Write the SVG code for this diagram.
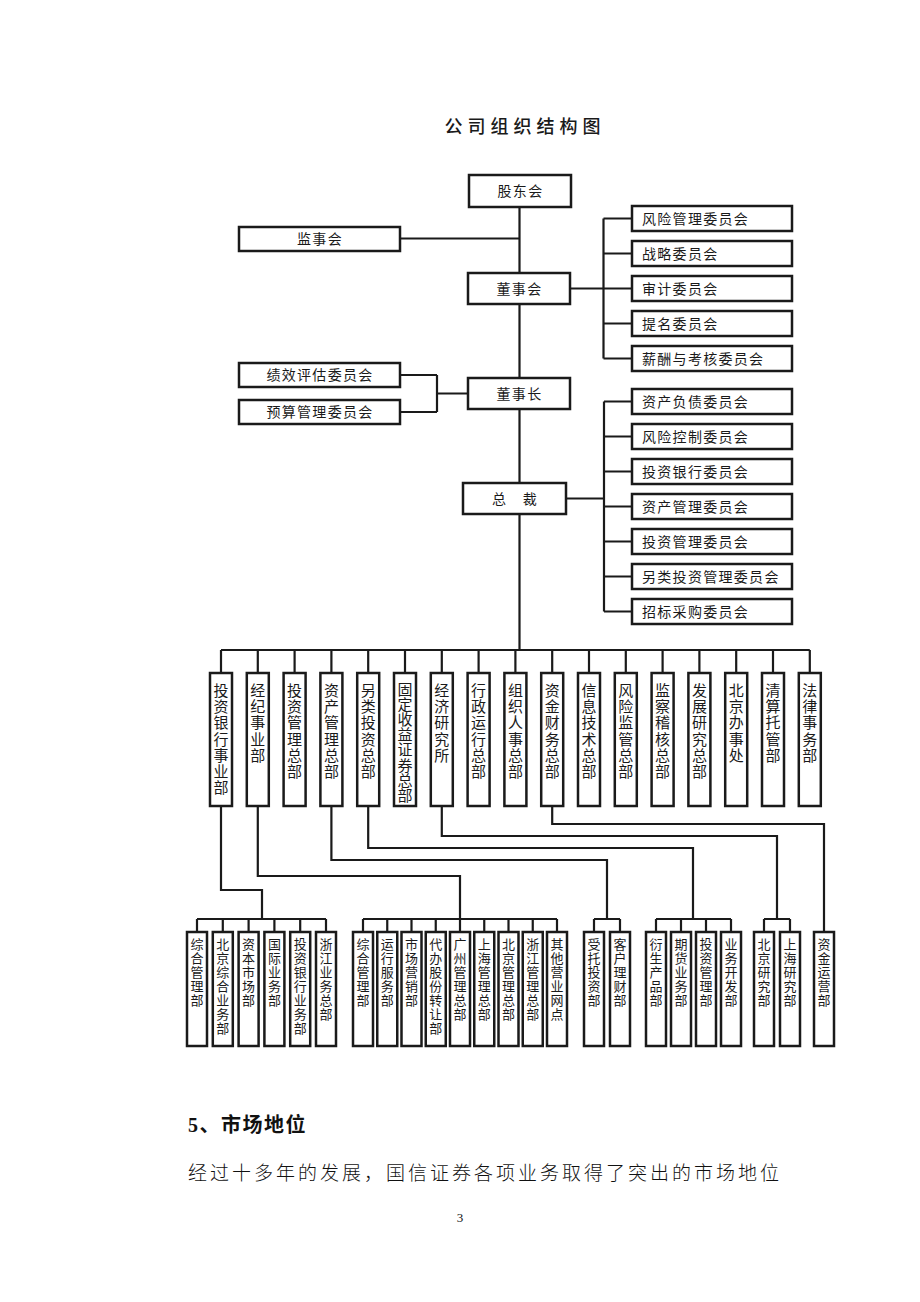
<svg xmlns="http://www.w3.org/2000/svg" width="920" height="1302" viewBox="0 0 920 1302">
<style>
.b{fill:#fff;stroke:#1a1a1a;stroke-width:2.5}
.c{fill:none;stroke:#1a1a1a;stroke-width:2.2}
.t{font-family:"Noto Sans CJK SC","Noto Sans",sans-serif;font-size:14px;fill:#1a1a1a;letter-spacing:1.3px}
.m{text-anchor:middle}
.v{font-family:"Noto Sans CJK SC","Noto Sans",sans-serif;font-size:15px;fill:#1a1a1a;text-anchor:middle}
.s{font-family:"Noto Sans CJK SC","Noto Sans",sans-serif;font-size:13px;fill:#1a1a1a;text-anchor:middle}
</style>
<rect width="920" height="1302" fill="#fff"/>
<text x="525" y="133" class="m" style="font-family:'Noto Sans CJK SC',sans-serif;font-size:18px;font-weight:500;letter-spacing:5px;fill:#1a1a1a">公司组织结构图</text>

<g id="connectors" class="c">
<path d="M519.5 207V273M519.5 304V378M519.5 409V483M519.5 514V650"/>
<path d="M400 238.5H519.5"/>
<path d="M570 288.5H603.5M603.5 218.5V358.5M603.5 218.5H632M603.5 253.5H632M603.5 288.5H632M603.5 323.5H632M603.5 358.5H632"/>
<path d="M400 375H437M400 412H437M437 375V412M437 393.5H468"/>
<path d="M566 498.5H604M604 401.5V611.5M604 401.5H632M604 436.5H632M604 471.5H632M604 506.5H632M604 541.5H632M604 576.5H632M604 611.5H632"/>
<path d="M221 650H809.8M221 650V673M257.8 650V673M294.6 650V673M331.4 650V673M368.2 650V673M405 650V673M441.8 650V673M478.6 650V673M515.4 650V673M552.2 650V673M589 650V673M625.8 650V673M662.6 650V673M699.4 650V673M736.2 650V673M773 650V673M809.8 650V673"/>
<path d="M221 806V890H262V919"/>
<path d="M257.8 806V876H460V919"/>
<path d="M331.4 806V860H607V919"/>
<path d="M368.2 806V848H693V919"/>
<path d="M441.8 806V836H777V919"/>
<path d="M552.2 806V824H824V932"/>
<path d="M197 919H326M197 919V932M222.8 919V932M248.6 919V932M274.4 919V932M300.2 919V932M326 919V932"/>
<path d="M363 919H557M363 919V932M387.25 919V932M411.5 919V932M435.75 919V932M460 919V932M484.25 919V932M508.5 919V932M532.75 919V932M557 919V932"/>
<path d="M594 919H620M594 919V932M620 919V932"/>
<path d="M656 919H731M656 919V932M681 919V932M706 919V932M731 919V932"/>
<path d="M764 919H790M764 919V932M790 919V932"/>
</g>

<g id="n-gudonghui"><rect class="b" x="469" y="175" width="102" height="32"/><text class="t m" x="520.5" y="196">股东会</text></g>
<g id="n-jianshihui"><rect class="b" x="239" y="227" width="161" height="24"/><text class="t m" x="320" y="244">监事会</text></g>
<g id="n-dongshihui"><rect class="b" x="468" y="273" width="102" height="31"/><text class="t m" x="519.5" y="293.5">董事会</text></g>
<g id="n-dongshizhang"><rect class="b" x="468" y="378" width="102" height="31"/><text class="t m" x="519.5" y="398.5">董事长</text></g>
<g id="n-zongcai"><rect class="b" x="463" y="483" width="103" height="31"/><text class="t m" x="515" y="503.5">总　裁</text></g>

<g id="n-jixiao"><rect class="b" x="239" y="363" width="161" height="24"/><text class="t m" x="320" y="380">绩效评估委员会</text></g>
<g id="n-yusuan"><rect class="b" x="239" y="400" width="161" height="24"/><text class="t m" x="320" y="417">预算管理委员会</text></g>

<g id="n-fxgl"><rect class="b" x="632" y="206" width="160" height="25"/><text class="t" x="642" y="223.5">风险管理委员会</text></g>
<g id="n-zlwy"><rect class="b" x="632" y="241" width="160" height="25"/><text class="t" x="642" y="258.5">战略委员会</text></g>
<g id="n-sjwy"><rect class="b" x="632" y="276" width="160" height="25"/><text class="t" x="642" y="293.5">审计委员会</text></g>
<g id="n-tmwy"><rect class="b" x="632" y="311" width="160" height="25"/><text class="t" x="642" y="328.5">提名委员会</text></g>
<g id="n-xckh"><rect class="b" x="632" y="346" width="160" height="25"/><text class="t" x="642" y="363.5">薪酬与考核委员会</text></g>

<g id="n-zcfz"><rect class="b" x="632" y="389" width="160" height="25"/><text class="t" x="642" y="406.5">资产负债委员会</text></g>
<g id="n-fxkz"><rect class="b" x="632" y="424" width="160" height="25"/><text class="t" x="642" y="441.5">风险控制委员会</text></g>
<g id="n-tzyh"><rect class="b" x="632" y="459" width="160" height="25"/><text class="t" x="642" y="476.5">投资银行委员会</text></g>
<g id="n-zcgl"><rect class="b" x="632" y="494" width="160" height="25"/><text class="t" x="642" y="511.5">资产管理委员会</text></g>
<g id="n-tzgl"><rect class="b" x="632" y="529" width="160" height="25"/><text class="t" x="642" y="546.5">投资管理委员会</text></g>
<g id="n-lltz"><rect class="b" x="632" y="564" width="160" height="25"/><text class="t" x="642" y="581.5">另类投资管理委员会</text></g>
<g id="n-zbcg"><rect class="b" x="632" y="599" width="160" height="25"/><text class="t" x="642" y="616.5">招标采购委员会</text></g>

<g id="d1"><rect class="b" x="210" y="673" width="22" height="133"/><text class="v" y="696"><tspan x="221">投</tspan><tspan x="221" dy="16.2">资</tspan><tspan x="221" dy="16.2">银</tspan><tspan x="221" dy="16.2">行</tspan><tspan x="221" dy="16.2">事</tspan><tspan x="221" dy="16.2">业</tspan><tspan x="221" dy="16.2">部</tspan></text></g>
<g id="d2"><rect class="b" x="246.8" y="673" width="22" height="133"/><text class="v" y="696"><tspan x="257.8">经</tspan><tspan x="257.8" dy="16.2">纪</tspan><tspan x="257.8" dy="16.2">事</tspan><tspan x="257.8" dy="16.2">业</tspan><tspan x="257.8" dy="16.2">部</tspan></text></g>
<g id="d3"><rect class="b" x="283.6" y="673" width="22" height="133"/><text class="v" y="696"><tspan x="294.6">投</tspan><tspan x="294.6" dy="16.2">资</tspan><tspan x="294.6" dy="16.2">管</tspan><tspan x="294.6" dy="16.2">理</tspan><tspan x="294.6" dy="16.2">总</tspan><tspan x="294.6" dy="16.2">部</tspan></text></g>
<g id="d4"><rect class="b" x="320.4" y="673" width="22" height="133"/><text class="v" y="696"><tspan x="331.4">资</tspan><tspan x="331.4" dy="16.2">产</tspan><tspan x="331.4" dy="16.2">管</tspan><tspan x="331.4" dy="16.2">理</tspan><tspan x="331.4" dy="16.2">总</tspan><tspan x="331.4" dy="16.2">部</tspan></text></g>
<g id="d5"><rect class="b" x="357.2" y="673" width="22" height="133"/><text class="v" y="696"><tspan x="368.2">另</tspan><tspan x="368.2" dy="16.2">类</tspan><tspan x="368.2" dy="16.2">投</tspan><tspan x="368.2" dy="16.2">资</tspan><tspan x="368.2" dy="16.2">总</tspan><tspan x="368.2" dy="16.2">部</tspan></text></g>
<g id="d6"><rect class="b" x="394" y="673" width="22" height="133"/><text class="v" y="694.5"><tspan x="405">固</tspan><tspan x="405" dy="15.2">定</tspan><tspan x="405" dy="15.2">收</tspan><tspan x="405" dy="15.2">益</tspan><tspan x="405" dy="15.2">证</tspan><tspan x="405" dy="15.2">券</tspan><tspan x="405" dy="15.2">总</tspan><tspan x="405" dy="15.2">部</tspan></text></g>
<g id="d7"><rect class="b" x="430.8" y="673" width="22" height="133"/><text class="v" y="696"><tspan x="441.8">经</tspan><tspan x="441.8" dy="16.2">济</tspan><tspan x="441.8" dy="16.2">研</tspan><tspan x="441.8" dy="16.2">究</tspan><tspan x="441.8" dy="16.2">所</tspan></text></g>
<g id="d8"><rect class="b" x="467.6" y="673" width="22" height="133"/><text class="v" y="696"><tspan x="478.6">行</tspan><tspan x="478.6" dy="16.2">政</tspan><tspan x="478.6" dy="16.2">运</tspan><tspan x="478.6" dy="16.2">行</tspan><tspan x="478.6" dy="16.2">总</tspan><tspan x="478.6" dy="16.2">部</tspan></text></g>
<g id="d9"><rect class="b" x="504.4" y="673" width="22" height="133"/><text class="v" y="696"><tspan x="515.4">组</tspan><tspan x="515.4" dy="16.2">织</tspan><tspan x="515.4" dy="16.2">人</tspan><tspan x="515.4" dy="16.2">事</tspan><tspan x="515.4" dy="16.2">总</tspan><tspan x="515.4" dy="16.2">部</tspan></text></g>
<g id="d10"><rect class="b" x="541.2" y="673" width="22" height="133"/><text class="v" y="696"><tspan x="552.2">资</tspan><tspan x="552.2" dy="16.2">金</tspan><tspan x="552.2" dy="16.2">财</tspan><tspan x="552.2" dy="16.2">务</tspan><tspan x="552.2" dy="16.2">总</tspan><tspan x="552.2" dy="16.2">部</tspan></text></g>
<g id="d11"><rect class="b" x="578" y="673" width="22" height="133"/><text class="v" y="696"><tspan x="589">信</tspan><tspan x="589" dy="16.2">息</tspan><tspan x="589" dy="16.2">技</tspan><tspan x="589" dy="16.2">术</tspan><tspan x="589" dy="16.2">总</tspan><tspan x="589" dy="16.2">部</tspan></text></g>
<g id="d12"><rect class="b" x="614.8" y="673" width="22" height="133"/><text class="v" y="696"><tspan x="625.8">风</tspan><tspan x="625.8" dy="16.2">险</tspan><tspan x="625.8" dy="16.2">监</tspan><tspan x="625.8" dy="16.2">管</tspan><tspan x="625.8" dy="16.2">总</tspan><tspan x="625.8" dy="16.2">部</tspan></text></g>
<g id="d13"><rect class="b" x="651.6" y="673" width="22" height="133"/><text class="v" y="696"><tspan x="662.6">监</tspan><tspan x="662.6" dy="16.2">察</tspan><tspan x="662.6" dy="16.2">稽</tspan><tspan x="662.6" dy="16.2">核</tspan><tspan x="662.6" dy="16.2">总</tspan><tspan x="662.6" dy="16.2">部</tspan></text></g>
<g id="d14"><rect class="b" x="688.4" y="673" width="22" height="133"/><text class="v" y="696"><tspan x="699.4">发</tspan><tspan x="699.4" dy="16.2">展</tspan><tspan x="699.4" dy="16.2">研</tspan><tspan x="699.4" dy="16.2">究</tspan><tspan x="699.4" dy="16.2">总</tspan><tspan x="699.4" dy="16.2">部</tspan></text></g>
<g id="d15"><rect class="b" x="725.2" y="673" width="22" height="133"/><text class="v" y="696"><tspan x="736.2">北</tspan><tspan x="736.2" dy="16.2">京</tspan><tspan x="736.2" dy="16.2">办</tspan><tspan x="736.2" dy="16.2">事</tspan><tspan x="736.2" dy="16.2">处</tspan></text></g>
<g id="d16"><rect class="b" x="762" y="673" width="22" height="133"/><text class="v" y="696"><tspan x="773">清</tspan><tspan x="773" dy="16.2">算</tspan><tspan x="773" dy="16.2">托</tspan><tspan x="773" dy="16.2">管</tspan><tspan x="773" dy="16.2">部</tspan></text></g>
<g id="d17"><rect class="b" x="798.8" y="673" width="22" height="133"/><text class="v" y="696"><tspan x="809.8">法</tspan><tspan x="809.8" dy="16.2">律</tspan><tspan x="809.8" dy="16.2">事</tspan><tspan x="809.8" dy="16.2">务</tspan><tspan x="809.8" dy="16.2">部</tspan></text></g>

<g id="g1a"><rect class="b" x="187" y="932" width="20" height="114"/><text class="s" y="949"><tspan x="197">综</tspan><tspan x="197" dy="14">合</tspan><tspan x="197" dy="14">管</tspan><tspan x="197" dy="14">理</tspan><tspan x="197" dy="14">部</tspan></text></g>
<g id="g1b"><rect class="b" x="212.8" y="932" width="20" height="114"/><text class="s" y="949"><tspan x="222.8">北</tspan><tspan x="222.8" dy="14">京</tspan><tspan x="222.8" dy="14">综</tspan><tspan x="222.8" dy="14">合</tspan><tspan x="222.8" dy="14">业</tspan><tspan x="222.8" dy="14">务</tspan><tspan x="222.8" dy="14">部</tspan></text></g>
<g id="g1c"><rect class="b" x="238.6" y="932" width="20" height="114"/><text class="s" y="949"><tspan x="248.6">资</tspan><tspan x="248.6" dy="14">本</tspan><tspan x="248.6" dy="14">市</tspan><tspan x="248.6" dy="14">场</tspan><tspan x="248.6" dy="14">部</tspan></text></g>
<g id="g1d"><rect class="b" x="264.4" y="932" width="20" height="114"/><text class="s" y="949"><tspan x="274.4">国</tspan><tspan x="274.4" dy="14">际</tspan><tspan x="274.4" dy="14">业</tspan><tspan x="274.4" dy="14">务</tspan><tspan x="274.4" dy="14">部</tspan></text></g>
<g id="g1e"><rect class="b" x="290.2" y="932" width="20" height="114"/><text class="s" y="949"><tspan x="300.2">投</tspan><tspan x="300.2" dy="14">资</tspan><tspan x="300.2" dy="14">银</tspan><tspan x="300.2" dy="14">行</tspan><tspan x="300.2" dy="14">业</tspan><tspan x="300.2" dy="14">务</tspan><tspan x="300.2" dy="14">部</tspan></text></g>
<g id="g1f"><rect class="b" x="316" y="932" width="20" height="114"/><text class="s" y="949"><tspan x="326">浙</tspan><tspan x="326" dy="14">江</tspan><tspan x="326" dy="14">业</tspan><tspan x="326" dy="14">务</tspan><tspan x="326" dy="14">总</tspan><tspan x="326" dy="14">部</tspan></text></g>

<g id="g2a"><rect class="b" x="353" y="932" width="20" height="114"/><text class="s" y="949"><tspan x="363">综</tspan><tspan x="363" dy="14">合</tspan><tspan x="363" dy="14">管</tspan><tspan x="363" dy="14">理</tspan><tspan x="363" dy="14">部</tspan></text></g>
<g id="g2b"><rect class="b" x="377.25" y="932" width="20" height="114"/><text class="s" y="949"><tspan x="387.25">运</tspan><tspan x="387.25" dy="14">行</tspan><tspan x="387.25" dy="14">服</tspan><tspan x="387.25" dy="14">务</tspan><tspan x="387.25" dy="14">部</tspan></text></g>
<g id="g2c"><rect class="b" x="401.5" y="932" width="20" height="114"/><text class="s" y="949"><tspan x="411.5">市</tspan><tspan x="411.5" dy="14">场</tspan><tspan x="411.5" dy="14">营</tspan><tspan x="411.5" dy="14">销</tspan><tspan x="411.5" dy="14">部</tspan></text></g>
<g id="g2d"><rect class="b" x="425.75" y="932" width="20" height="114"/><text class="s" y="949"><tspan x="435.75">代</tspan><tspan x="435.75" dy="14">办</tspan><tspan x="435.75" dy="14">股</tspan><tspan x="435.75" dy="14">份</tspan><tspan x="435.75" dy="14">转</tspan><tspan x="435.75" dy="14">让</tspan><tspan x="435.75" dy="14">部</tspan></text></g>
<g id="g2e"><rect class="b" x="450" y="932" width="20" height="114"/><text class="s" y="949"><tspan x="460">广</tspan><tspan x="460" dy="14">州</tspan><tspan x="460" dy="14">管</tspan><tspan x="460" dy="14">理</tspan><tspan x="460" dy="14">总</tspan><tspan x="460" dy="14">部</tspan></text></g>
<g id="g2f"><rect class="b" x="474.25" y="932" width="20" height="114"/><text class="s" y="949"><tspan x="484.25">上</tspan><tspan x="484.25" dy="14">海</tspan><tspan x="484.25" dy="14">管</tspan><tspan x="484.25" dy="14">理</tspan><tspan x="484.25" dy="14">总</tspan><tspan x="484.25" dy="14">部</tspan></text></g>
<g id="g2g"><rect class="b" x="498.5" y="932" width="20" height="114"/><text class="s" y="949"><tspan x="508.5">北</tspan><tspan x="508.5" dy="14">京</tspan><tspan x="508.5" dy="14">管</tspan><tspan x="508.5" dy="14">理</tspan><tspan x="508.5" dy="14">总</tspan><tspan x="508.5" dy="14">部</tspan></text></g>
<g id="g2h"><rect class="b" x="522.75" y="932" width="20" height="114"/><text class="s" y="949"><tspan x="532.75">浙</tspan><tspan x="532.75" dy="14">江</tspan><tspan x="532.75" dy="14">管</tspan><tspan x="532.75" dy="14">理</tspan><tspan x="532.75" dy="14">总</tspan><tspan x="532.75" dy="14">部</tspan></text></g>
<g id="g2i"><rect class="b" x="547" y="932" width="20" height="114"/><text class="s" y="949"><tspan x="557">其</tspan><tspan x="557" dy="14">他</tspan><tspan x="557" dy="14">营</tspan><tspan x="557" dy="14">业</tspan><tspan x="557" dy="14">网</tspan><tspan x="557" dy="14">点</tspan></text></g>

<g id="g3a"><rect class="b" x="584" y="932" width="20" height="114"/><text class="s" y="949"><tspan x="594">受</tspan><tspan x="594" dy="14">托</tspan><tspan x="594" dy="14">投</tspan><tspan x="594" dy="14">资</tspan><tspan x="594" dy="14">部</tspan></text></g>
<g id="g3b"><rect class="b" x="610" y="932" width="20" height="114"/><text class="s" y="949"><tspan x="620">客</tspan><tspan x="620" dy="14">户</tspan><tspan x="620" dy="14">理</tspan><tspan x="620" dy="14">财</tspan><tspan x="620" dy="14">部</tspan></text></g>

<g id="g4a"><rect class="b" x="646" y="932" width="20" height="114"/><text class="s" y="949"><tspan x="656">衍</tspan><tspan x="656" dy="14">生</tspan><tspan x="656" dy="14">产</tspan><tspan x="656" dy="14">品</tspan><tspan x="656" dy="14">部</tspan></text></g>
<g id="g4b"><rect class="b" x="671" y="932" width="20" height="114"/><text class="s" y="949"><tspan x="681">期</tspan><tspan x="681" dy="14">货</tspan><tspan x="681" dy="14">业</tspan><tspan x="681" dy="14">务</tspan><tspan x="681" dy="14">部</tspan></text></g>
<g id="g4c"><rect class="b" x="696" y="932" width="20" height="114"/><text class="s" y="949"><tspan x="706">投</tspan><tspan x="706" dy="14">资</tspan><tspan x="706" dy="14">管</tspan><tspan x="706" dy="14">理</tspan><tspan x="706" dy="14">部</tspan></text></g>
<g id="g4d"><rect class="b" x="721" y="932" width="20" height="114"/><text class="s" y="949"><tspan x="731">业</tspan><tspan x="731" dy="14">务</tspan><tspan x="731" dy="14">开</tspan><tspan x="731" dy="14">发</tspan><tspan x="731" dy="14">部</tspan></text></g>

<g id="g5a"><rect class="b" x="754" y="932" width="20" height="114"/><text class="s" y="949"><tspan x="764">北</tspan><tspan x="764" dy="14">京</tspan><tspan x="764" dy="14">研</tspan><tspan x="764" dy="14">究</tspan><tspan x="764" dy="14">部</tspan></text></g>
<g id="g5b"><rect class="b" x="780" y="932" width="20" height="114"/><text class="s" y="949"><tspan x="790">上</tspan><tspan x="790" dy="14">海</tspan><tspan x="790" dy="14">研</tspan><tspan x="790" dy="14">究</tspan><tspan x="790" dy="14">部</tspan></text></g>

<g id="g6"><rect class="b" x="814" y="932" width="20" height="114"/><text class="s" y="949"><tspan x="824">资</tspan><tspan x="824" dy="14">金</tspan><tspan x="824" dy="14">运</tspan><tspan x="824" dy="14">营</tspan><tspan x="824" dy="14">部</tspan></text></g>

<text x="188" y="1132" style="font-family:'Liberation Serif','Noto Sans CJK SC',serif;font-size:20px;font-weight:bold;letter-spacing:1.5px;fill:#111">5、市场地位</text>
<text x="188" y="1180" style="font-family:'Noto Sans CJK SC',sans-serif;font-size:19px;font-weight:300;letter-spacing:3px;fill:#111">经过十多年的发展，国信证券各项业务取得了突出的市场地位</text>
<text x="460" y="1222" text-anchor="middle" style="font-family:'Liberation Serif',serif;font-size:13px;fill:#111">3</text>
</svg>
